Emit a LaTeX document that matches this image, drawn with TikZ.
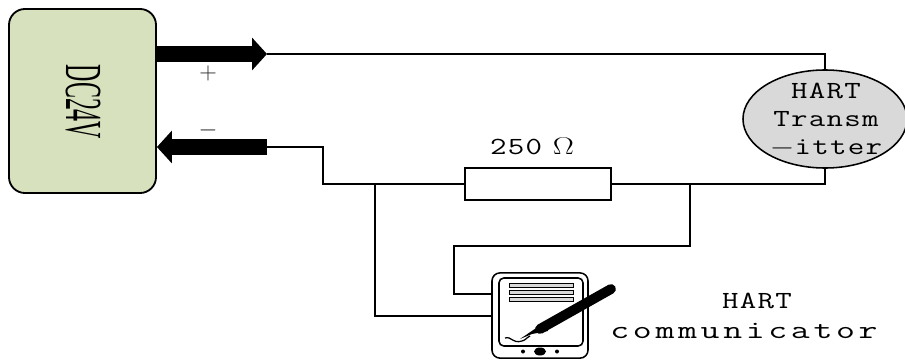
\documentclass[tikz,border=0pt]{standalone}
\usepackage{fontspec}
\usetikzlibrary{arrows.meta,shapes.geometric}
\newfontfamily\narrowtt[LetterSpace=4]{Latin Modern Mono}
\newfontfamily\widett[LetterSpace=10]{Latin Modern Mono}
\newfontfamily\dcfont{Liberation Serif}
\definecolor{green1}{HTML}{D7E1BD}
\definecolor{gray1}{HTML}{D9D9D9}
\tikzset{wire/.style={draw,line width=1.1pt},
  bus/.style={line width=0.4cm,-{Triangle[length=0.375cm,width=0.8cm]}},
  label1/.style={inner sep=0pt,align=center,xscale=1.3,font=\fontsize{17.5}{20}\selectfont\narrowtt},
  label2/.style={inner sep=0pt,align=center,xscale=1.45,font=\fontsize{18}{20}\selectfont\widett},
  sign/.style={inner sep=0pt,text=black!85,font=\fontsize{18}{18}\selectfont}}
\begin{document}
\begin{tikzpicture}[x=0.025cm,y=-0.025cm]
  \useasboundingbox (0,0) rectangle (905,361);
  \node[draw,line width=1.3pt,fill=green1,rounded corners=0.4cm,minimum width=3.675cm,minimum height=4.6cm,inner sep=0pt] (dc) at (82.5,101) {};
  \node[rotate=-90,xscale=0.46,inner sep=0pt,font=\fontsize{37}{37}\selectfont\dcfont] (dctext) at (83,102) {DC24V};
  \node[wire,ellipse,fill=gray1,minimum width=4.1cm,minimum height=2.45cm,inner sep=0pt] (hart) at (825,119) {};
  \node[label1] (harttext) at (826,120) {HART\\Transm\\$-$itter};
  \node[wire,fill=white,minimum width=3.65cm,minimum height=0.8cm,inner sep=0pt] (res) at (538,184) {};
  \node[label1] (restext) at (532,146) {250\,\,$\Omega$};
  \node[wire,rounded corners=0.2cm,minimum width=2.4cm,minimum height=2.13cm,inner sep=0pt] (comm) at (540,315.5) {};
  \node[wire,rounded corners=0.12cm,minimum width=2.1cm,minimum height=1.7cm,inner sep=0pt] (screen) at (541,312) {};
  \foreach \y in {285,292,299}
    \node[draw,line width=0.7pt,fill=gray1,minimum width=1.6cm,minimum height=0.1cm,inner sep=0pt] (bar\y) at (541,\y) {};
  \node[fill,ellipse,minimum width=0.3cm,minimum height=0.2cm,inner sep=0pt] (home) at (540,351.5) {};
  \node[fill,circle,minimum size=0.1cm,inner sep=0pt] (btn1) at (523,351.5) {};
  \node[fill,circle,minimum size=0.1cm,inner sep=0pt] (btn2) at (557,351.5) {};
  \node[label1] (commtitle) at (757,301) {HART};
  \node[label2] (commtext) at (744,331) {communicator};
  \node[sign] (plus) at (208,73) {$+$};
  \node[sign] (minus) at (208,130) {$-$};
  \coordinate (plusend) at (267,54);
  \coordinate (minusend) at (267,147);
  \coordinate (lowbend) at (375,316);
  \coordinate (upbend) at (454,294);
  \draw[bus] (dc.east |- plusend) -- (plusend);
  \draw[bus] (minusend) -- (dc.east |- minusend);
  \draw[wire] (plusend) -| (hart.north);
  \draw[wire] (hart.south) |- (res.east);
  \draw[wire] (minusend) -- (323,147) |- (res.west);
  \draw[wire] (375,184) -- (lowbend) -- (comm.west |- lowbend);
  \draw[wire] (690,184) -- (690,246) -- (454,246) -- (upbend) -- (comm.west |- upbend);
  \draw[line width=7pt,line cap=round] (611,289) -- (540,329);
  \fill (545,322) -- (520,339) -- (532,334) -- (548,331) -- cycle;
  \draw[line width=0.9pt] (505,338) .. controls (512,336) and (512,344) .. (522,341) .. controls (526,340) and (526,338) .. (530,336);
\end{tikzpicture}
\end{document}
